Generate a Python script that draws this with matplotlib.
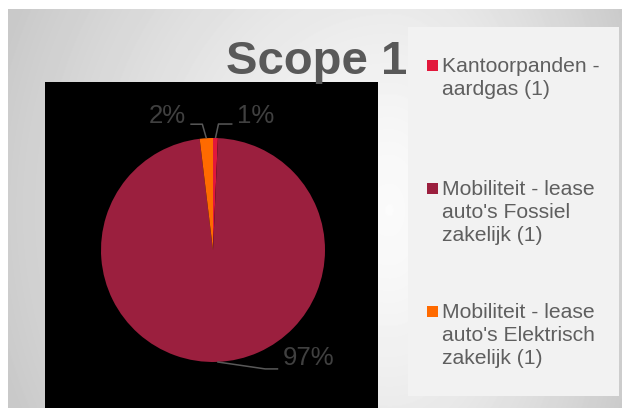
import numpy as np
import matplotlib.pyplot as plt
from matplotlib.patches import Rectangle

# data
categories = ["Kantoorpanden -\naardgas (1)",
              "Mobiliteit - lease\nauto's Fossiel\nzakelijk (1)",
              "Mobiliteit - lease\nauto's Elektrisch\nzakelijk (1)"]
shares = [0.7, 97.4, 1.9]
colors = ["#E2173B", "#9B1F3E", "#FF6A00"]
title = "Scope 1"

plt.rcParams['font.family'] = ['Liberation Sans', 'DejaVu Sans']

W, H = 622, 408
fig = plt.figure(figsize=(W / 100, H / 100), dpi=100)
fig.patch.set_facecolor('white')

# soft gray gradient behind everything
bg = fig.add_axes([8 / W, 0, (W - 8) / W, (H - 9) / H])
yy, xx = np.mgrid[9:H, 8:W]
cx, cy = 390, 210
sx = np.where(xx < cx, 370, 235)
d = np.hypot((xx - cx) / sx, (yy - cy) / 420)
shade = np.clip(0.985 - 0.17 * d**1.3, 0.76, 1)
bg.imshow(shade, cmap='gray', vmin=0, vmax=1, aspect='auto',
          interpolation='bilinear')
bg.axis('off')

# pie on a black plot area, 1 unit = 112 px
ax = fig.add_axes([45 / W, 0, 333 / W, 326 / H])
wedges, _ = ax.pie(shares, colors=colors, startangle=90, counterclock=False,
                   radius=1, wedgeprops=dict(linewidth=0))
ax.set_xlim(-168 / 112, 165 / 112)
ax.set_ylim(-158 / 112, 168 / 112)
ax.set_aspect('auto')
ax.set_frame_on(True)
ax.set_facecolor('black')
for s in ax.spines.values():
    s.set_visible(False)

pct = [f"{round(s / sum(shares) * 100)}%" for s in shares]
# leader line elbow / end offsets in px, and label side
leaders = [((3, 14), (17, 14), 1, 8),
           ((48, -7), (61, -7), 1, 11),
           ((-4, 14), (-16, 14), -1, 8)]
u = 1 / 112
for w, lab, (elb, end, side, up) in zip(wedges, pct, leaders):
    mid = np.deg2rad((w.theta1 + w.theta2) / 2)
    ex, ey = np.cos(mid), np.sin(mid)
    xs = [ex, ex + elb[0] * u, ex + end[0] * u]
    ys = [ey, ey + elb[1] * u, ey + end[1] * u]
    ax.plot(xs, ys, color='#595959', lw=1.1, solid_capstyle='butt')
    ax.text(xs[-1] + side * 4.5 * u, ys[-1] + up * u, lab,
            ha='left' if side > 0 else 'right', va='center',
            fontsize=18.5, color='#404040')

# overlay in pixel coords for title and legend
ov = fig.add_axes([0, 0, 1, 1])
ov.set_xlim(0, W)
ov.set_ylim(H, 0)
ov.axis('off')
ov.add_patch(Rectangle((408, 27), 211, 369, facecolor='#f2f2f2',
                       edgecolor='none'))
ov.text(407, 74, title, ha='right', va='baseline', fontsize=34,
        fontweight='bold', color='#595959')
for i, (lab, c) in enumerate(zip(categories, colors)):
    y0 = 72 + i * 123
    ov.add_patch(Rectangle((427, y0 - 12), 11, 11, facecolor=c,
                           edgecolor='none'))
    for j, line in enumerate(lab.split('\n')):
        ov.text(442, y0 + j * 23, line, ha='left', va='baseline',
                fontsize=15.2, color='#5f5f5f')

fig.savefig('out.png', dpi=100)
